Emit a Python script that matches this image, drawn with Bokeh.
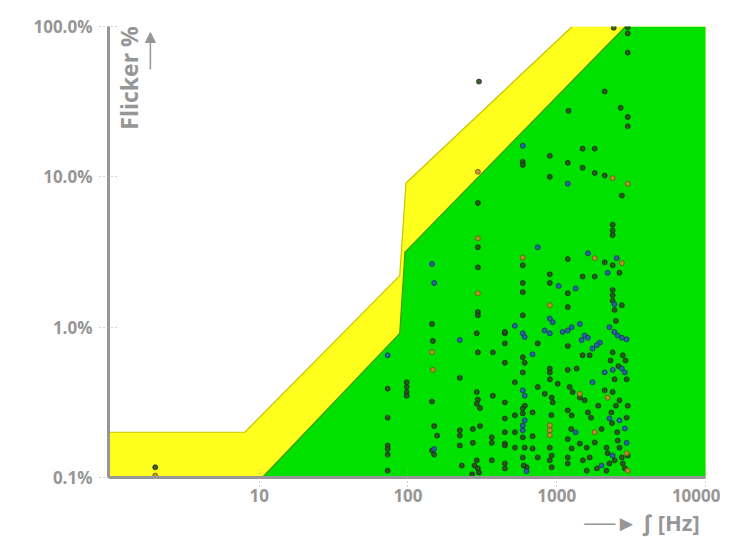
import math
from bokeh.plotting import figure
from bokeh.models import Range1d, FixedTicker, PrintfTickFormatter, Label, Arrow, NormalHead, Title
from bokeh.embed import file_html
from bokeh.resources import INLINE

# ---- limit curves (frequency Hz, flicker %) ----
upper_f = [0.9, 8, 88, 97, 1270]
upper_pct = [0.2, 0.2, 2.2, 9.1, 100]
lower_f = [10.5, 88, 95.5, 2900]
lower_pct = [0.1, 0.91, 3.16, 100]

# ---- measured lamps ----
dark_f = [300, 2415, 3000, 3000, 3000, 2100, 1200, 2690, 3000, 3000, 1493, 1800,
          591, 591, 898, 898, 1186, 1493, 1800, 2100, 2740,
          2377, 2377, 2377, 591, 1186, 2100, 2377, 898, 1493, 1800, 2640, 591, 591, 898, 1186, 2377, 2377,
          295, 295, 295, 295, 295, 145, 147, 290, 295, 372, 448, 448, 223, 98, 98, 98, 98, 73, 145,
          290, 295, 290, 305, 372, 73, 150, 157, 223, 223, 273, 305, 366, 448, 73, 73, 73, 145, 150,
          223, 230, 273, 290, 295, 300, 280, 270, 366, 366, 448, 73, 2,
          1186, 2740, 591, 448, 745, 1186, 2377, 2780, 591, 609, 1493, 1665, 448, 898, 898, 1186, 1360,
          591, 523, 745, 1015, 1222, 1279, 830, 925, 940, 1430, 1540, 2100, 2377, 2640, 448, 448, 523,
          591, 591, 688, 1186, 1259, 1620, 2330, 448, 448, 448, 523, 523, 591, 609, 591, 627, 688, 688,
          745, 898, 925, 898, 925, 1186, 1186, 1259, 1430, 1590, 1800, 1665, 1860, 1590, 2160, 2200,
          2260, 2160, 2570, 2640, 2740, 2780, 2870,
          2377, 2450, 2500, 2300, 2600, 2450, 2500, 2350, 2550, 2450, 2900, 2950, 3000, 2950, 3000,
          1186, 1250, 600, 610, 900, 920, 1500, 1700, 1900, 2000]
dark_pct = [43, 98, 99, 90, 67, 37, 27.5, 28.8, 25, 21.7, 15.4, 15.4,
            12.6, 12.0, 13.8, 10.0, 12.4, 11.5, 10.6, 10.2, 7.5,
            4.8, 4.4, 4.1, 2.58, 2.84, 2.7, 2.58, 2.25, 2.17, 2.17, 2.3, 1.97, 1.71, 1.97, 1.68, 1.77, 1.63,
            6.7, 3.4, 2.5, 1.26, 1.2, 1.05, 0.81, 0.91, 0.68, 0.68, 0.78, 0.91, 0.46, 0.43, 0.40, 0.37, 0.35, 0.39, 0.32,
            0.37, 0.33, 0.31, 0.29, 0.35, 0.25, 0.22, 0.19, 0.206, 0.19, 0.21, 0.22, 0.185, 0.168, 0.163, 0.155, 0.142, 0.151, 0.142,
            0.163, 0.12, 0.17, 0.13, 0.115, 0.108, 0.12, 0.105, 0.17, 0.13, 0.115, 0.111, 0.117,
            1.36, 1.4, 1.2, 0.93, 0.78, 0.75, 0.68, 0.65, 0.63, 0.58, 0.65, 0.65, 0.58, 0.53, 0.50, 0.52, 0.53,
            0.50, 0.43, 0.40, 0.42, 0.40, 0.37, 0.36, 0.34, 0.316, 0.34, 0.326, 0.38, 0.37, 0.326, 0.316, 0.247, 0.259,
            0.288, 0.267, 0.271, 0.28, 0.259, 0.271, 0.271, 0.2, 0.163, 0.124, 0.2, 0.158, 0.185, 0.158, 0.136, 0.117, 0.188, 0.156,
            0.136, 0.158, 0.14, 0.13, 0.117, 0.136, 0.124, 0.156, 0.168, 0.158, 0.171, 0.136, 0.115, 0.111, 0.158, 0.145,
            0.124, 0.111, 0.176, 0.158, 0.136, 0.124, 0.115,
            1.5, 1.3, 1.1, 0.6, 0.55, 0.45, 0.3, 0.23, 0.2, 0.13, 0.6, 0.45, 0.3, 0.25, 0.14,
            0.18, 0.21, 0.12, 0.3, 0.45, 0.26, 0.13, 0.25, 0.3, 0.21]

blue_f = [591, 1186, 745, 1620, 2530, 2200, 1030, 1340, 145, 150, 223, 73, 2440, 898, 940, 523,
          591, 609, 830, 898, 1096, 1186, 1259, 1430, 1540, 1620, 1470, 2260, 2440, 2570, 2740, 2950,
          1950, 1860, 1740, 688, 2100, 2377, 2740, 2870, 1740, 591, 609, 591, 609, 2260, 2640, 2870,
          591, 2377, 627, 2950, 1340, 150, 2000]
blue_pct = [16.1, 9.0, 3.4, 3.1, 2.88, 2.3, 1.88, 1.81, 2.63, 1.97, 0.82, 0.65, 1.42, 1.14, 1.08, 1.02,
            0.91, 0.86, 0.95, 0.91, 0.93, 0.95, 1.0, 1.05, 0.88, 0.85, 0.82, 1.0, 0.93, 0.88, 0.85, 0.83,
            0.79, 0.76, 0.72, 0.66, 0.50, 0.52, 0.53, 0.50, 0.43, 0.38, 0.35, 0.222, 0.24, 0.247, 0.24, 0.212,
            0.206, 0.14, 0.11, 0.17, 0.2, 0.155, 0.12]

orange_f = [295, 2377, 3000, 591, 1800, 2740, 295, 295, 898, 145, 147, 898, 898, 898, 2,
            2950, 3000, 1800, 1430, 2200]
orange_pct = [10.8, 9.8, 9.0, 2.9, 2.88, 2.67, 3.9, 1.68, 1.4, 0.68, 0.52, 0.222, 0.206, 0.191, 0.103,
              0.145, 0.111, 0.2, 0.36, 0.34]

x_ticks = [10, 100, 1000, 10000]
y_ticks = [0.1, 1, 10, 100]

X0, X1, Y0, Y1 = 0.97, 10000, 0.1, 100
GRAY = "#969696"
FONT = "Open Sans"

p = figure(width=720, height=537, x_axis_type="log", y_axis_type="log",
           x_range=Range1d(X0, X1), y_range=Range1d(Y0, Y1),
           output_backend="svg", toolbar_location=None,
           min_border_left=108, min_border_right=15, min_border_top=26, min_border_bottom=60)
p.outline_line_color = None
p.xgrid.visible = False
p.ygrid.visible = False
p.background_fill_color = "white"

# yellow band: everything below the upper limit
p.patch(upper_f + [X1 * 2, X1 * 2, upper_f[0]],
        upper_pct + [upper_pct[-1], Y0 / 2, Y0 / 2],
        fill_color="#ffff1e", line_color=None)
# green region: everything below the lower limit
p.patch(lower_f + [X1 * 2, X1 * 2],
        lower_pct + [lower_pct[-1], Y0 / 2],
        fill_color="#00e100", line_color=None)
p.line(upper_f, upper_pct, line_color="#c9c400", line_width=1.2)
p.line(lower_f, lower_pct, line_color="#3f9a00", line_width=1.2)

p.scatter(dark_f, dark_pct, size=5, marker="circle", fill_color="#2b4a22",
          line_color="#1c2b14", line_width=0.8, alpha=0.9)
p.scatter(blue_f, blue_pct, size=5, marker="circle", fill_color="#2a58b0",
          line_color="#1b2c5a", line_width=0.8, alpha=0.9)
p.scatter(orange_f, orange_pct, size=5, marker="circle", fill_color="#c98a2a",
          line_color="#6b4b1a", line_width=0.8, alpha=0.9)

for ax in (p.xaxis[0], p.yaxis[0]):
    ax.axis_line_color = GRAY
    ax.axis_line_width = 3
    ax.major_tick_line_color = "#a8a8a8"
    ax.major_tick_line_dash = "1 3"
    ax.major_tick_in = 10
    ax.major_tick_out = 9
    ax.minor_tick_line_color = None
    ax.major_label_text_color = GRAY
    ax.major_label_text_font = FONT
    ax.major_label_text_font_style = "bold"
    ax.major_label_text_font_size = "17px"

p.xaxis.ticker = FixedTicker(ticks=x_ticks)
p.yaxis.ticker = FixedTicker(ticks=y_ticks)
p.xaxis.formatter = PrintfTickFormatter(format="%d")
p.yaxis.formatter = PrintfTickFormatter(format="%.1f%%")
p.xaxis.major_label_standoff = 2
p.yaxis.major_label_standoff = 7

# axis titles with arrows
p.add_layout(Label(x=1.34, y=20.6, text="Flicker %", angle=math.pi / 2,
                   text_align="left", text_baseline="middle", text_color=GRAY,
                   text_font=FONT, text_font_style="bold", text_font_size="23px"))
p.add_layout(Arrow(x_start=1.855, y_start=51.7, x_end=1.855, y_end=91.2,
                   line_color=GRAY, line_width=1.5,
                   end=NormalHead(size=10, fill_color=GRAY, line_color=GRAY)))
p.add_layout(Title(text="\u2500\u2500\u25ba  \u222b [Hz]", align="right", text_color=GRAY,
                   text_font=FONT, text_font_style="bold", text_font_size="22px",
                   standoff=0), "below")

open("out.html", "w").write(file_html(p, INLINE))
